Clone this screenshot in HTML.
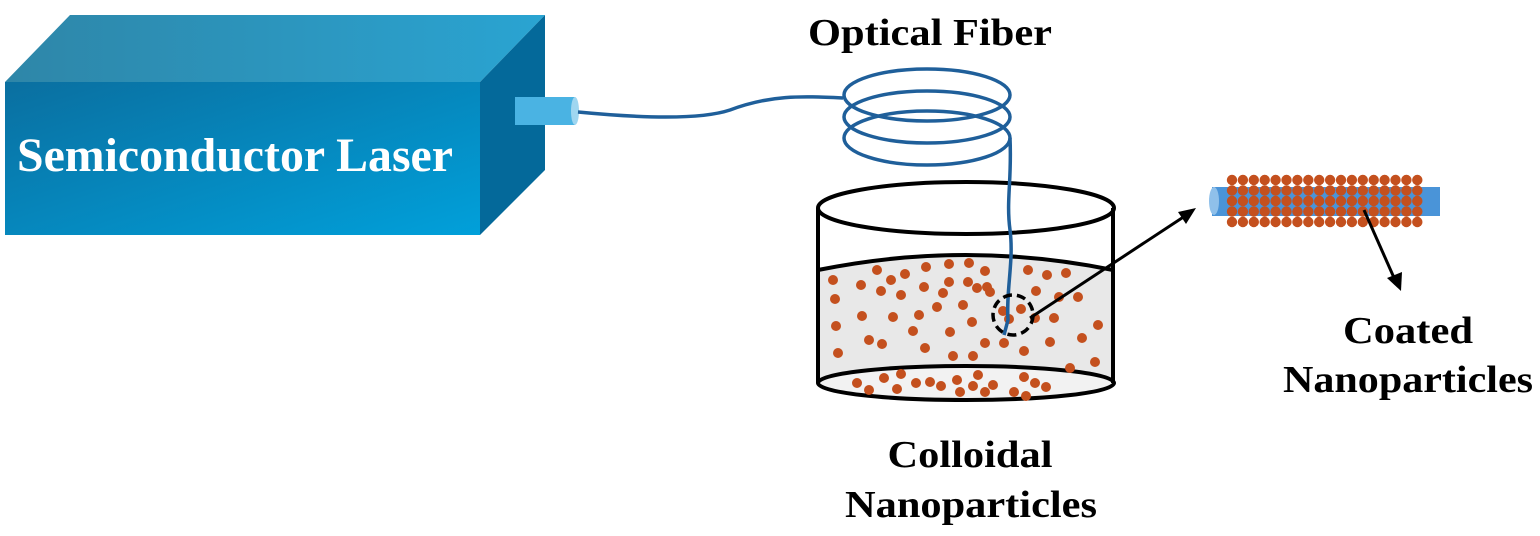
<!DOCTYPE html>
<html><head><style>body{margin:0;background:#fff}svg{display:block}</style></head><body>
<svg width="1540" height="536" viewBox="0 0 1540 536" xmlns="http://www.w3.org/2000/svg">
<defs>
<linearGradient id="fr" x1="0" y1="0" x2="1" y2="1"><stop offset="0" stop-color="#0a6fa0"/><stop offset="1" stop-color="#01a0da"/></linearGradient>
<linearGradient id="tp" x1="0" y1="0" x2="1" y2="0"><stop offset="0" stop-color="#2e86a8"/><stop offset="1" stop-color="#2aa4d2"/></linearGradient>
</defs>
<polygon points="5,82 70,15 545,15 480,82" fill="url(#tp)"/>
<polygon points="480,82 545,15 545,170 480,235" fill="#04699a"/>
<rect x="5" y="82" width="475" height="153" fill="url(#fr)"/>
<text x="17" y="171" font-family="Liberation Serif,serif" font-weight="bold" font-size="48" fill="#fff" textLength="436" lengthAdjust="spacingAndGlyphs">Semiconductor Laser</text>
<rect x="515" y="97" width="60" height="28" fill="#4ab3e3"/>
<ellipse cx="575" cy="111" rx="4" ry="14" fill="#9fd6f0"/>
<g fill="none" stroke="#1f5f9a" stroke-width="3.5">
<path d="M578,112 C640,118 700,120 730,110 C770,95 800,96 843,98"/>
<ellipse cx="927" cy="95" rx="83" ry="26"/>
<ellipse cx="927" cy="117" rx="83" ry="26"/>
<ellipse cx="927" cy="138" rx="83" ry="27"/>
</g>
<text x="930" y="45" text-anchor="middle" font-family="Liberation Serif,serif" font-weight="bold" font-size="38" textLength="244" lengthAdjust="spacingAndGlyphs">Optical Fiber</text>
<path d="M818,270 Q966,240 1113,270 L1113,383 L818,383 Z" fill="#e8e8e8"/>
<ellipse cx="966" cy="383" rx="148" ry="17" fill="#f2f2f2" stroke="#000" stroke-width="4"/>
<path d="M818,270 Q966,240 1113,270" fill="none" stroke="#000" stroke-width="4"/>
<ellipse cx="966" cy="208" rx="148" ry="26" fill="none" stroke="#000" stroke-width="4"/>
<line x1="818" y1="208" x2="818" y2="383" stroke="#000" stroke-width="4"/>
<line x1="1113" y1="208" x2="1113" y2="383" stroke="#000" stroke-width="4"/>
<g fill="#c4501e">
<circle cx="833" cy="280" r="5"/><circle cx="877" cy="270" r="5"/><circle cx="905" cy="274" r="5"/><circle cx="926" cy="267" r="5"/><circle cx="949" cy="264" r="5"/><circle cx="969" cy="263" r="5"/><circle cx="985" cy="271" r="5"/><circle cx="1028" cy="270" r="5"/><circle cx="1047" cy="275" r="5"/><circle cx="1066" cy="273" r="5"/>
<circle cx="835" cy="299" r="5"/><circle cx="861" cy="285" r="5"/><circle cx="881" cy="291" r="5"/><circle cx="891" cy="280" r="5"/><circle cx="901" cy="295" r="5"/><circle cx="924" cy="287" r="5"/><circle cx="943" cy="293" r="5"/><circle cx="949" cy="282" r="5"/><circle cx="968" cy="282" r="5"/><circle cx="977" cy="288" r="5"/><circle cx="987" cy="287" r="5"/><circle cx="990" cy="292" r="5"/><circle cx="1036" cy="291" r="5"/><circle cx="1059" cy="297" r="5"/><circle cx="1078" cy="297" r="5"/>
<circle cx="836" cy="326" r="5"/><circle cx="862" cy="316" r="5"/><circle cx="893" cy="317" r="5"/><circle cx="919" cy="315" r="5"/><circle cx="937" cy="307" r="5"/><circle cx="963" cy="305" r="5"/><circle cx="1003" cy="311" r="5"/><circle cx="1021" cy="309" r="5"/><circle cx="1009" cy="319" r="5"/><circle cx="1035" cy="318" r="5"/><circle cx="1054" cy="318" r="5"/><circle cx="1098" cy="325" r="5"/>
<circle cx="869" cy="340" r="5"/><circle cx="882" cy="344" r="5"/><circle cx="913" cy="331" r="5"/><circle cx="950" cy="332" r="5"/><circle cx="972" cy="322" r="5"/><circle cx="985" cy="343" r="5"/><circle cx="1004" cy="343" r="5"/><circle cx="1050" cy="342" r="5"/><circle cx="1082" cy="338" r="5"/>
<circle cx="838" cy="353" r="5"/><circle cx="925" cy="348" r="5"/><circle cx="953" cy="356" r="5"/><circle cx="973" cy="356" r="5"/><circle cx="1024" cy="351" r="5"/><circle cx="1070" cy="368" r="5"/><circle cx="1095" cy="362" r="5"/>
<circle cx="857" cy="383" r="5"/><circle cx="869" cy="390" r="5"/><circle cx="884" cy="378" r="5"/><circle cx="901" cy="374" r="5"/><circle cx="897" cy="389" r="5"/><circle cx="916" cy="383" r="5"/><circle cx="930" cy="382" r="5"/><circle cx="941" cy="386" r="5"/><circle cx="957" cy="380" r="5"/><circle cx="960" cy="392" r="5"/><circle cx="973" cy="386" r="5"/><circle cx="978" cy="375" r="5"/><circle cx="985" cy="392" r="5"/><circle cx="993" cy="385" r="5"/><circle cx="1014" cy="392" r="5"/><circle cx="1024" cy="377" r="5"/><circle cx="1035" cy="383" r="5"/><circle cx="1046" cy="387" r="5"/><circle cx="1026" cy="396" r="5"/>
</g>
<path d="M1010,138 C1012,180 1006,200 1010,230 C1014,260 1006,290 1008,320 L1004,335" fill="none" stroke="#1f5f9a" stroke-width="3.5"/>
<circle cx="1013" cy="315" r="20" fill="none" stroke="#000" stroke-width="3.5" stroke-dasharray="9,5"/>
<line x1="1030" y1="318" x2="1185" y2="216" stroke="#000" stroke-width="3"/>
<polygon points="1196,208 1178,212 1186,224" fill="#000"/>
<rect x="1212" y="187" width="228" height="29" fill="#4a94d8"/>
<ellipse cx="1214" cy="201" rx="5" ry="14" fill="#8fc0ea"/>
<g fill="#c4501e">
<g transform="translate(1232,180)">
<g id="row"><circle cx="0" cy="0" r="5.2"/><circle cx="10.9" cy="0" r="5.2"/><circle cx="21.8" cy="0" r="5.2"/><circle cx="32.7" cy="0" r="5.2"/><circle cx="43.6" cy="0" r="5.2"/><circle cx="54.5" cy="0" r="5.2"/><circle cx="65.4" cy="0" r="5.2"/><circle cx="76.3" cy="0" r="5.2"/><circle cx="87.2" cy="0" r="5.2"/><circle cx="98.1" cy="0" r="5.2"/><circle cx="109" cy="0" r="5.2"/><circle cx="119.9" cy="0" r="5.2"/><circle cx="130.8" cy="0" r="5.2"/><circle cx="141.7" cy="0" r="5.2"/><circle cx="152.6" cy="0" r="5.2"/><circle cx="163.5" cy="0" r="5.2"/><circle cx="174.4" cy="0" r="5.2"/><circle cx="185.3" cy="0" r="5.2"/></g>
<use href="#row" y="10.5"/><use href="#row" y="21"/><use href="#row" y="31.5"/><use href="#row" y="42"/>
</g>
</g>
<line x1="1364" y1="210" x2="1395" y2="280" stroke="#000" stroke-width="3"/>
<polygon points="1401,291 1387,278 1402,272" fill="#000"/>
<text x="1408" y="343" text-anchor="middle" font-family="Liberation Serif,serif" font-weight="bold" font-size="38" textLength="130" lengthAdjust="spacingAndGlyphs">Coated</text>
<text x="1408" y="392" text-anchor="middle" font-family="Liberation Serif,serif" font-weight="bold" font-size="38" textLength="250" lengthAdjust="spacingAndGlyphs">Nanoparticles</text>
<text x="970" y="467" text-anchor="middle" font-family="Liberation Serif,serif" font-weight="bold" font-size="38" textLength="165" lengthAdjust="spacingAndGlyphs">Colloidal</text>
<text x="971" y="517" text-anchor="middle" font-family="Liberation Serif,serif" font-weight="bold" font-size="38" textLength="252" lengthAdjust="spacingAndGlyphs">Nanoparticles</text>
</svg>
</body></html>
